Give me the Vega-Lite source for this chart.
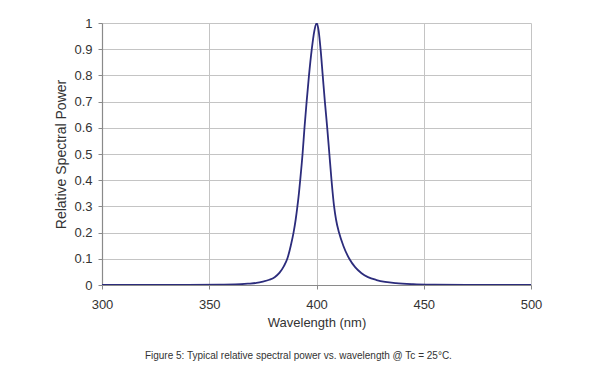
{
  "$schema": "https://vega.github.io/schema/vega-lite/v6.json",
  "width": 429,
  "height": 262,
  "autosize": "none",
  "padding": {"left": 102, "top": 23, "right": 69, "bottom": 87},
  "background": "white",
  "config": {
    "view": {"stroke": null},
    "font": "Liberation Sans",
    "axis": {
      "labelFont": "Liberation Sans",
      "titleFont": "Liberation Sans",
      "labelColor": "#333333",
      "titleColor": "#333333",
      "titleFontWeight": "normal",
      "gridColor": "#c4c4c4",
      "gridOpacity": 1,
      "gridWidth": 1,
      "domainColor": "#8a8a8a",
      "domainWidth": 1.2,
      "tickColor": "#8a8a8a",
      "tickSize": 4,
      "labelFlush": false
    }
  },
  "title": {
    "text": "Figure 5:  Typical relative spectral power vs. wavelength @ Tc = 25°C.",
    "orient": "bottom",
    "anchor": "middle",
    "frame": "bounds",
    "font": "Liberation Sans",
    "fontSize": 10,
    "fontWeight": "normal",
    "color": "#333333",
    "offset": 22
  },
  "data": {
    "values": [
      {"wl": 300, "p": 0},
      {"wl": 320, "p": 0},
      {"wl": 340, "p": 0},
      {"wl": 355, "p": 0.001},
      {"wl": 362, "p": 0.002},
      {"wl": 368, "p": 0.005},
      {"wl": 372, "p": 0.008},
      {"wl": 375, "p": 0.013},
      {"wl": 378, "p": 0.02},
      {"wl": 380.5, "p": 0.03},
      {"wl": 382.8, "p": 0.047},
      {"wl": 384.8, "p": 0.072},
      {"wl": 386.5, "p": 0.103},
      {"wl": 388, "p": 0.15},
      {"wl": 389.3, "p": 0.2},
      {"wl": 390.3, "p": 0.25},
      {"wl": 391.1, "p": 0.3},
      {"wl": 391.8, "p": 0.35},
      {"wl": 392.4, "p": 0.4},
      {"wl": 393.5, "p": 0.5},
      {"wl": 394.4, "p": 0.6},
      {"wl": 395.4, "p": 0.7},
      {"wl": 396.5, "p": 0.8},
      {"wl": 397.8, "p": 0.9},
      {"wl": 399.0, "p": 0.97},
      {"wl": 400.1, "p": 1.0},
      {"wl": 401.0, "p": 0.97},
      {"wl": 401.9, "p": 0.9},
      {"wl": 402.9, "p": 0.8},
      {"wl": 403.9, "p": 0.7},
      {"wl": 405.0, "p": 0.6},
      {"wl": 406, "p": 0.5},
      {"wl": 407, "p": 0.4},
      {"wl": 408.2, "p": 0.3},
      {"wl": 409.1, "p": 0.25},
      {"wl": 410.5, "p": 0.2},
      {"wl": 412.5, "p": 0.15},
      {"wl": 415.3, "p": 0.1},
      {"wl": 418, "p": 0.068},
      {"wl": 421, "p": 0.045},
      {"wl": 424, "p": 0.03},
      {"wl": 428, "p": 0.019},
      {"wl": 432, "p": 0.012},
      {"wl": 437, "p": 0.007},
      {"wl": 445, "p": 0.003},
      {"wl": 455, "p": 0.001},
      {"wl": 470, "p": 0},
      {"wl": 500, "p": 0}
    ]
  },
  "mark": {"type": "line", "color": "#2c2c7c", "strokeWidth": 1.8, "interpolate": "monotone", "clip": true},
  "encoding": {
    "x": {
      "field": "wl",
      "type": "quantitative",
      "scale": {"domain": [300, 500], "nice": false},
      "axis": {
        "values": [300, 350, 400, 450, 500],
        "title": "Wavelength (nm)",
        "titleFontSize": 13,
        "labelFontSize": 13,
        "labelPadding": 9,
        "titlePadding": 5
      }
    },
    "y": {
      "field": "p",
      "type": "quantitative",
      "scale": {"domain": [0, 1], "nice": false},
      "axis": {
        "values": [0, 0.1, 0.2, 0.3, 0.4, 0.5, 0.6, 0.7, 0.8, 0.9, 1],
        "format": "~g",
        "title": "Relative Spectral Power",
        "titleFontSize": 14,
        "labelFontSize": 13,
        "labelPadding": 6,
        "titlePadding": 5
      }
    }
  }
}
